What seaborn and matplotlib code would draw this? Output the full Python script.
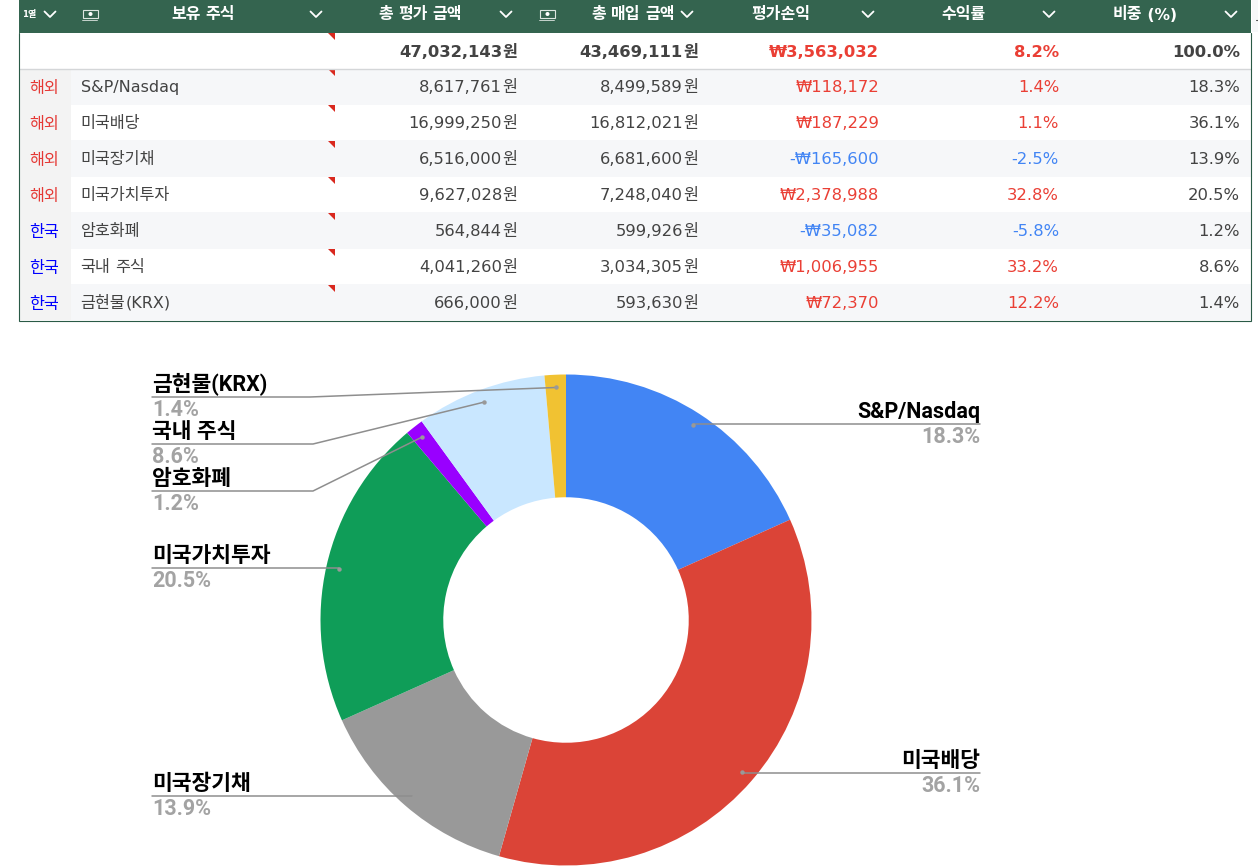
import math
import matplotlib
matplotlib.use("Agg")
import matplotlib.pyplot as plt
from matplotlib.patches import Rectangle, Polygon, Circle
import seaborn as sns

regions = ["해외", "해외", "해외", "해외", "한국", "한국", "한국"]
holdings = ["S&P/Nasdaq", "미국배당", "미국장기채", "미국가치투자", "암호화폐", "국내 주식", "금현물(KRX)"]
market_value = [8617761, 16999250, 6516000, 9627028, 564844, 4041260, 666000]
cost_basis = [8499589, 16812021, 6681600, 7248040, 599926, 3034305, 593630]
profit = [118172, 187229, -165600, 2378988, -35082, 1006955, 72370]
return_pct = [1.4, 1.1, -2.5, 32.8, -5.8, 33.2, 12.2]
weight_pct = [18.3, 36.1, 13.9, 20.5, 1.2, 8.6, 1.4]
total_value = 47032143
total_cost = 43469111
total_profit = 3563032
total_return = 8.2
total_weight = 100.0
headers = ["보유 주식", "총 평가 금액", "총 매입 금액", "평가손익", "수익률", "비중 (%)"]
slice_colors = ["#4285F4", "#DB4437", "#999999", "#0F9D58", "#9900FF", "#C9E7FF", "#F1C232"]

W, H = 1258, 868
LATIN = "DejaVu Sans"
CJK = "Noto Sans CJK KR"
LABEL_FONT = ["Roboto", "Noto Sans CJK KR"]
GREEN = "#34644F"
RED = "#EA3F35"
BLUE = "#4285F4"
DARK = "#434343"

sns.set_theme(style="white")
plt.rcParams["font.family"] = [LATIN, CJK]

fig = plt.figure(figsize=(W / 100, H / 100), dpi=100, facecolor="white")


def box(x0, y0, w, h):
    return [x0 / W, 1 - (y0 + h) / H, w / W, h / H]


# Donut, in its own axes centred on the ring
cx, cy, radius = 566, 620, 245.5
span = radius * 1.25
pie_ax = fig.add_axes(box(cx - span, cy - span, 2 * span, 2 * span))
pie_ax.pie(weight_pct, colors=sns.color_palette(slice_colors), startangle=90,
           counterclock=False, radius=1.0, wedgeprops=dict(width=0.5, linewidth=0))
pie_ax.set_xlim(-1.25, 1.25)
pie_ax.set_ylim(-1.25, 1.25)

# Overlay in pixel units for the table and the callouts
ax = fig.add_axes([0, 0, 1, 1])
ax.set_xlim(0, W)
ax.set_ylim(H, 0)
ax.axis("off")
ax.patch.set_alpha(0)
renderer = fig.canvas.get_renderer()


def is_hangul(ch):
    return "\uac00" <= ch <= "\ud7a3"


def split_runs(s):
    runs = []
    for ch in s:
        kind = is_hangul(ch)
        if runs and runs[-1][0] == kind:
            runs[-1][1] += ch
        else:
            runs.append([kind, ch])
    return runs


def mixed_text(x, y, s, color, latin_size, cjk_size, bold=False, align="left"):
    """Lay out a string run by run so digits and Hangul can take different sizes."""
    weight = "bold" if bold else "normal"
    pieces = []
    for hangul, run in split_runs(s):
        t = ax.text(0, y, run, color=color, fontweight=weight, va="baseline", ha="left",
                    family=CJK if hangul else LATIN,
                    fontsize=cjk_size if hangul else latin_size)
        adv = t.get_window_extent(renderer).width
        # trailing or leading blanks are not counted in the extent
        if hangul:
            adv = cjk_size * 100 / 72 * 0.92 * sum(1 for c in run if is_hangul(c)) \
                + cjk_size * 100 / 72 * 0.26 * run.count(" ")
        pieces.append((t, adv))
    total = sum(a for _, a in pieces)
    pos = x if align == "left" else (x - total if align == "right" else x - total / 2)
    for t, adv in pieces:
        t.set_x(pos)
        pos += adv


TL, TR = 18.5, 1250.5
ax.add_patch(Rectangle((TL, 0), TR - TL, 33, fc=GREEN, ec="none"))
ax.add_patch(Rectangle((TR + 1, 0), W - TR, 32, fc="#F7F8F9", ec="none"))
ax.plot([1256, 1258], [20, 20], color="#555555", lw=0.8)
band_edges = [69, 105, 140, 177, 212, 249, 284, 320]
for i in range(7):
    top, bottom = band_edges[i], band_edges[i + 1]
    if i % 2 == 0:
        ax.add_patch(Rectangle((TL, top), TR - TL, bottom - top, fc="#F6F7F9", ec="none"))
    ax.add_patch(Rectangle((TL, top), 52.5, bottom - top, fc="#F3F3F3", ec="none"))
ax.plot([TL, TR], [68.5, 68.5], color="#D4D6D8", lw=1.0, solid_capstyle="butt")
ax.plot([TL, TL, TR, TR], [33, 320.5, 320.5, 33], color="#2A5A46", lw=0.8, solid_joinstyle="miter")

# Header row
header_x = [203, 420, 633, 781, 963, 1145]
for label, x in zip(headers, header_x):
    mixed_text(x, 19.5, label, "white", 11.2, 11.5, bold=True, align="center")
mixed_text(29, 17, "1열", "white", 6, 6.5, bold=True, align="center")
for x in [50, 316, 506, 687, 868, 1049, 1231]:
    ax.plot([x - 5.5, x, x + 5.5], [11.5, 17, 11.5], color="white", lw=1.3, solid_capstyle="round")
for x in [90, 547]:
    ax.add_patch(Rectangle((x - 7, 10), 15, 8, fc="none", ec="#DDE6E1", lw=0.8))
    ax.add_patch(Circle((x + 0.5, 14), 2, fc="white", ec="none"))
    ax.plot([x - 8, x + 7], [20, 20], color="#DDE6E1", lw=0.6)

# Comment markers in the holdings column
for top in [33, 69, 105, 141, 177, 213, 249, 285]:
    ax.add_patch(Polygon([(328, top), (335, top), (335, top + 7)], fc="#D9281E", ec="none"))

NUM_RIGHT = [517, 698, 879, 1059, 1240]
NUM_SIZE = 11.8
HANGUL_SIZE = 11.7


def won(v):
    return f"{v:,}원"


def krw(v):
    return f"-₩{-v:,}" if v < 0 else f"₩{v:,}"


# Totals row
total_cells = [(won(total_value), DARK), (won(total_cost), DARK), (krw(total_profit), RED),
               (f"{total_return:.1f}%", RED), (f"{total_weight:.1f}%", DARK)]
for (s, c), x in zip(total_cells, NUM_RIGHT):
    mixed_text(x, 57, s, c, NUM_SIZE, HANGUL_SIZE, bold=True, align="right")

# Holdings rows
baselines = [92, 128, 164, 200, 236, 272, 308]
for i, y in enumerate(baselines):
    sign = RED if profit[i] >= 0 else BLUE
    mixed_text(44.5, y + 0.5, regions[i], "#E53935" if regions[i] == "해외" else "#0000FF",
               10.5, HANGUL_SIZE, align="center")
    mixed_text(80.5, y, holdings[i], DARK, NUM_SIZE - 0.3, HANGUL_SIZE)
    cells = [(won(market_value[i]), DARK), (won(cost_basis[i]), DARK), (krw(profit[i]), sign),
             (f"{return_pct[i]:.1f}%", sign), (f"{weight_pct[i]:.1f}%", DARK)]
    for (s, c), x in zip(cells, NUM_RIGHT):
        mixed_text(x, y, s, c, NUM_SIZE, HANGUL_SIZE, align="right")

# Callouts: anchor dot sits at each slice's mid-angle
line_y = [424, 773, 796, 568, 491, 444, 397]
side = ["right", "right", "left", "left", "left", "left", "left"]
elbow = [None, None, None, None, 313, 313, 310]
LEFT_X, RIGHT_X = 152, 980
dot_r = radius * 0.948
cum = 0.0
for i, w in enumerate(weight_pct):
    mid = math.radians((cum + w / 2) / sum(weight_pct) * 360)
    cum += w
    dx, dy = cx + dot_r * math.sin(mid), cy - dot_r * math.cos(mid)
    ly = line_y[i]
    edge = RIGHT_X if side[i] == "right" else LEFT_X
    if elbow[i] is None:
        xs, ys = [edge, dx], [ly, ly]
    else:
        xs, ys = [edge, elbow[i], dx], [ly, ly, dy]
    ax.plot(xs, ys, color="#8E8E8E", lw=1.1, solid_joinstyle="round")
    ax.plot([dx], [dy], "o", color="#999999", ms=3.2, mew=0)
    ha = side[i]
    ax.text(edge, ly - 12, holdings[i], color="black", fontsize=15.5, fontweight="bold",
            family=LABEL_FONT, ha=ha, va="center")
    ax.text(edge, ly + 13, f"{w:.1f}%", color="#A3A3A3", fontsize=15.5, fontweight="bold",
            family=LABEL_FONT, ha=ha, va="center")

fig.savefig("out.png", dpi=100, facecolor="white")
